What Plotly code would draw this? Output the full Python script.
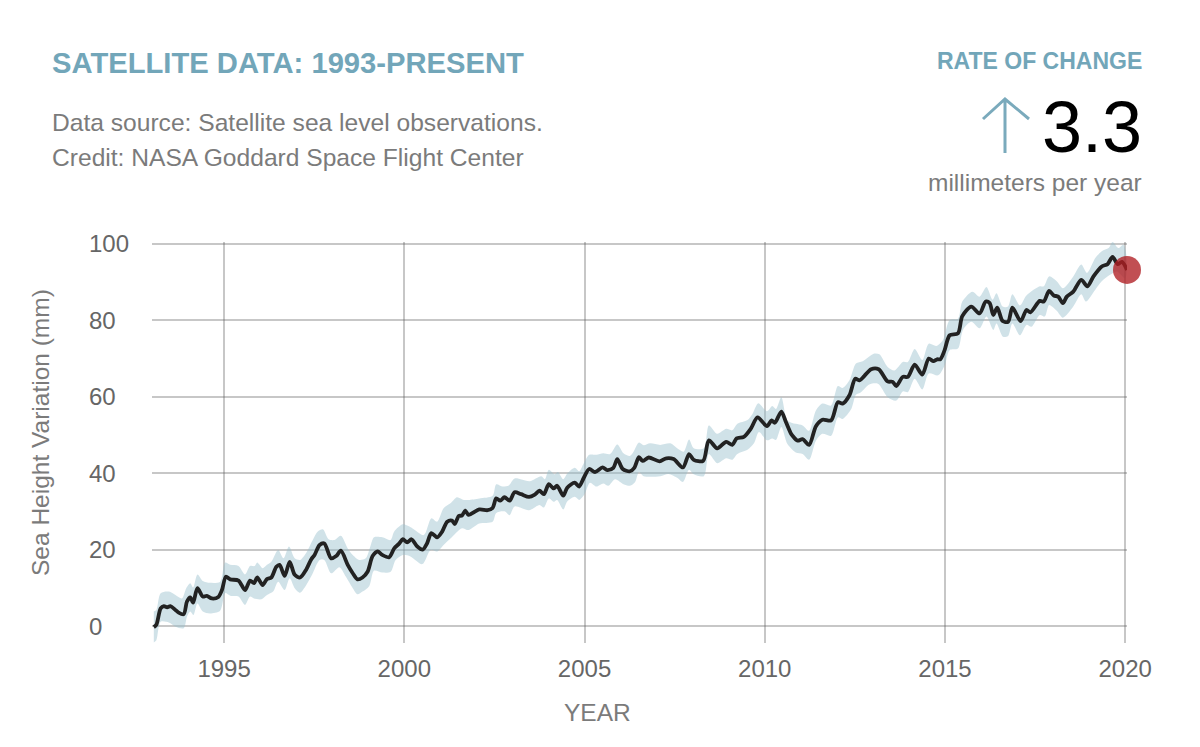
import plotly.graph_objects as go

# values
line_years = [1993.05, 1993.12, 1993.24, 1993.33, 1993.42, 1993.51, 1993.65, 1993.74, 1993.88, 1993.97, 1994.06, 1994.14, 1994.26, 1994.41, 1994.52, 1994.66, 1994.84, 1994.94,
              1995.05, 1995.17, 1995.40, 1995.58, 1995.72, 1995.83, 1995.92, 1996.07, 1996.19, 1996.31, 1996.45, 1996.54, 1996.68, 1996.82, 1996.96,
              1997.11, 1997.28, 1997.42, 1997.51, 1997.65, 1997.78, 1997.97, 1998.11, 1998.24, 1998.43, 1998.57, 1998.70, 1998.84, 1998.98,
              1999.12, 1999.26, 1999.39, 1999.58, 1999.72, 1999.85, 1999.96, 2000.08, 2000.20, 2000.36, 2000.51, 2000.63, 2000.75, 2000.91,
              2001.05, 2001.19, 2001.32, 2001.40, 2001.51, 2001.60, 2001.69, 2001.78, 2002.08, 2002.31, 2002.45, 2002.55, 2002.66, 2002.78, 2002.92,
              2003.06, 2003.24, 2003.46, 2003.62, 2003.75, 2003.87, 2004.01, 2004.14, 2004.24, 2004.41, 2004.52, 2004.73, 2004.85, 2004.98,
              2005.13, 2005.29, 2005.50, 2005.63, 2005.80, 2005.91, 2006.06, 2006.26, 2006.38, 2006.51, 2006.61, 2006.78,
              2007.08, 2007.27, 2007.47, 2007.73, 2007.90, 2008.03, 2008.29, 2008.45, 2008.68, 2008.93,
              2009.10, 2009.22, 2009.42, 2009.61, 2009.80, 2010.06, 2010.19, 2010.28, 2010.46, 2010.59, 2010.73, 2010.77, 2010.91,
              2011.05, 2011.23, 2011.42, 2011.60, 2011.84, 2012.03, 2012.16, 2012.35, 2012.51, 2012.63, 2012.76, 2012.95,
              2013.16, 2013.41, 2013.55, 2013.65, 2013.83, 2013.97, 2014.16, 2014.37, 2014.55, 2014.68, 2014.78, 2014.87, 2014.99,
              2015.13, 2015.36, 2015.48, 2015.73, 2015.96, 2016.13, 2016.24, 2016.34, 2016.45, 2016.60, 2016.75, 2016.87,
              2017.10, 2017.26, 2017.37, 2017.63, 2017.74, 2017.89, 2018.02, 2018.14, 2018.27, 2018.38, 2018.56, 2018.78, 2018.95,
              2019.12, 2019.35, 2019.51, 2019.65, 2019.79, 2019.91, 2020.05]
line_values = [-0.3, 0.3, 4.6, 5.2, 4.9, 5.2, 4.2, 3.5, 3.1, 6.4, 7.5, 6.1, 9.9, 7.7, 7.9, 7.2, 7.6, 9.4,
               12.9, 12.2, 11.9, 9.4, 11.9, 11.2, 12.7, 10.7, 12.3, 12.7, 15.5, 16.0, 13.1, 16.8, 13.4,
               12.7, 14.8, 17.5, 18.6, 21.2, 21.6, 17.7, 18.3, 19.7, 16.0, 13.8, 12.2, 12.7, 14.2,
               18.3, 19.5, 18.6, 18.0, 20.3, 21.5, 22.7, 21.9, 22.7, 20.8, 20.0, 21.6, 24.3, 23.2,
               24.7, 27.3, 27.6, 26.7, 28.8, 28.9, 30.2, 29.1, 30.5, 30.3, 30.9, 33.4, 32.8, 33.7, 32.8,
               35.0, 34.5, 33.8, 34.4, 35.4, 34.5, 37.1, 36.0, 36.7, 34.1, 36.2, 37.5, 36.5, 38.8,
               41.1, 40.3, 41.5, 40.8, 41.4, 43.7, 41.1, 40.5, 41.4, 44.2, 43.2, 44.1,
               43.1, 43.9, 43.7, 41.5, 45.0, 43.5, 43.2, 48.6, 46.5, 48.2,
               47.4, 49.1, 49.5, 51.6, 54.6, 52.3, 53.8, 53.2, 56.1, 53.3, 50.3, 49.8, 48.5,
               48.9, 47.4, 52.3, 54.0, 53.8, 58.6, 58.2, 60.4, 64.7, 64.3, 65.4, 67.2,
               67.2, 64.0, 63.9, 62.8, 65.2, 65.2, 68.4, 65.8, 70.0, 69.3, 69.8, 69.8, 72.2,
               76.1, 76.6, 81.1, 83.6, 81.8, 84.9, 84.5, 81.4, 83.3, 79.8, 79.6, 83.3,
               79.8, 82.7, 82.1, 85.1, 84.9, 87.7, 86.5, 86.2, 84.5, 86.2, 87.5, 90.6, 88.9,
               91.5, 94.1, 94.7, 96.6, 94.7, 95.3, 93.2]

upper_years = [1993.05, 1993.12, 1993.24, 1993.47, 1993.65, 1993.83, 1993.95, 1994.06, 1994.14, 1994.26, 1994.41, 1994.61, 1994.89,
               1995.03, 1995.17, 1995.40, 1995.58, 1995.72, 1995.85, 1995.92, 1996.07, 1996.19, 1996.31, 1996.50, 1996.65, 1996.80, 1996.96,
               1997.11, 1997.28, 1997.46, 1997.60, 1997.74, 1997.90, 1998.06, 1998.24, 1998.43, 1998.57, 1998.75, 1998.93,
               1999.07, 1999.16, 1999.39, 1999.62, 1999.72, 1999.96, 2000.22, 2000.54, 2000.75, 2000.91,
               2001.09, 2001.28, 2001.46, 2001.65, 2001.78, 2002.08, 2002.45, 2002.55, 2002.73, 2002.90,
               2003.06, 2003.48, 2003.80, 2003.90, 2004.01, 2004.17, 2004.26, 2004.41, 2004.52, 2004.73, 2004.85, 2004.98,
               2005.13, 2005.33, 2005.52, 2005.71, 2005.91, 2006.08, 2006.26, 2006.36, 2006.51, 2006.64, 2006.82,
               2007.10, 2007.38, 2007.57, 2007.75, 2007.90, 2008.03, 2008.31, 2008.45, 2008.68, 2008.93,
               2009.10, 2009.24, 2009.52, 2009.66, 2009.82, 2010.06, 2010.21, 2010.31, 2010.46, 2010.63, 2010.86,
               2011.05, 2011.23, 2011.42, 2011.60, 2011.84, 2012.03, 2012.16, 2012.35, 2012.53, 2012.72,
               2013.04, 2013.18, 2013.41, 2013.60, 2013.83, 2013.97, 2014.16, 2014.37, 2014.55, 2014.76, 2014.94,
               2015.13, 2015.36, 2015.48, 2015.76, 2015.96, 2016.15, 2016.32, 2016.43, 2016.60, 2016.75, 2016.87,
               2017.08, 2017.26, 2017.63, 2017.74, 2017.89, 2018.10, 2018.27, 2018.56, 2018.78, 2018.94,
               2019.17, 2019.35, 2019.54, 2019.65, 2019.81, 2019.95, 2020.03]
upper_values = [3.8, 4.2, 8.6, 9.0, 8.1, 7.2, 9.9, 11.2, 10.1, 13.5, 11.8, 11.3, 11.6,
                16.6, 16.0, 15.7, 13.5, 15.7, 15.7, 16.6, 15.1, 16.0, 16.8, 19.9, 17.7, 20.8, 17.7,
                17.3, 19.2, 22.5, 24.7, 25.3, 22.7, 22.5, 23.6, 20.3, 18.6, 17.3, 17.7,
                21.2, 23.2, 23.2, 22.5, 24.7, 26.6, 25.6, 23.8, 28.2, 27.3,
                30.8, 32.1, 33.7, 33.0, 33.0, 33.4, 34.1, 37.1, 36.5, 36.8,
                38.6, 37.9, 39.2, 38.4, 40.9, 39.7, 40.3, 38.4, 39.9, 41.4, 40.5, 42.6,
                44.8, 44.8, 45.2, 45.0, 47.5, 45.2, 44.5, 45.6, 48.0, 47.3, 47.8,
                47.4, 47.8, 46.5, 45.6, 48.8, 46.5, 46.5, 52.5, 50.3, 51.6,
                51.2, 52.9, 53.9, 55.5, 58.3, 56.2, 57.6, 56.8, 59.9, 53.8, 52.9,
                52.5, 51.1, 56.4, 58.2, 57.7, 62.8, 62.3, 64.3, 68.7, 69.3,
                71.3, 71.1, 67.8, 66.9, 69.1, 69.1, 72.5, 69.6, 73.9, 73.3, 74.8,
                80.1, 80.4, 84.9, 87.5, 86.2, 88.7, 85.4, 87.1, 83.6, 83.6, 86.8,
                83.9, 86.5, 88.9, 88.9, 91.5, 90.2, 88.4, 91.5, 94.6, 92.4,
                96.3, 98.1, 98.9, 100.5, 98.9, 99.8, 97.2]

lower_years = [1993.05, 1993.12, 1993.24, 1993.47, 1993.65, 1993.88, 1993.97, 1994.06, 1994.15, 1994.26, 1994.41, 1994.61, 1994.89,
               1995.03, 1995.17, 1995.40, 1995.58, 1995.72, 1995.83, 1996.04, 1996.19, 1996.36, 1996.50, 1996.68, 1996.82, 1996.96,
               1997.11, 1997.28, 1997.44, 1997.65, 1997.78, 1997.97, 1998.20, 1998.38, 1998.57, 1998.70, 1998.84,
               1999.03, 1999.16, 1999.39, 1999.62, 1999.76, 1999.96, 2000.17, 2000.50, 2000.73, 2000.91,
               2001.09, 2001.28, 2001.60, 2001.78, 2002.08, 2002.45, 2002.55, 2002.78, 2002.92,
               2003.06, 2003.46, 2003.75, 2003.87, 2004.01, 2004.14, 2004.24, 2004.41, 2004.52, 2004.73, 2004.85, 2005.00,
               2005.15, 2005.33, 2005.52, 2005.66, 2005.85, 2006.08, 2006.26, 2006.40, 2006.51, 2006.64,
               2007.10, 2007.33, 2007.57, 2007.73, 2007.90, 2008.03, 2008.31, 2008.45, 2008.68, 2008.93,
               2009.10, 2009.24, 2009.52, 2009.70, 2009.84, 2010.06, 2010.21, 2010.31, 2010.46, 2010.63, 2010.86,
               2011.05, 2011.23, 2011.42, 2011.60, 2011.84, 2012.03, 2012.16, 2012.40, 2012.53, 2012.67, 2012.90,
               2013.14, 2013.41, 2013.65, 2013.83, 2013.97, 2014.16, 2014.37, 2014.55, 2014.81, 2014.99,
               2015.13, 2015.36, 2015.50, 2015.73, 2015.96, 2016.15, 2016.34, 2016.43, 2016.61, 2016.75, 2016.87,
               2017.08, 2017.26, 2017.40, 2017.63, 2017.77, 2017.89, 2018.10, 2018.27, 2018.56, 2018.78, 2018.91,
               2019.17, 2019.35, 2019.58, 2019.77, 2020.00]
lower_values = [-4.3, -3.7, 1.1, 0.9, -0.2, -0.6, 2.4, 3.8, 2.9, 5.9, 3.8, 3.3, 4.0,
                8.6, 7.9, 7.7, 5.5, 7.7, 7.2, 7.0, 8.1, 9.0, 11.6, 9.4, 12.5, 9.9,
                8.7, 10.7, 13.4, 17.3, 17.3, 13.8, 15.4, 12.9, 9.9, 8.3, 9.0,
                10.5, 14.5, 14.0, 14.2, 17.3, 18.6, 18.2, 16.2, 19.9, 19.5,
                21.2, 22.9, 25.6, 25.1, 26.8, 27.3, 29.6, 30.0, 29.0,
                31.3, 30.3, 31.7, 31.0, 33.4, 32.5, 33.0, 30.5, 32.6, 33.8, 33.0, 34.5,
                37.5, 36.5, 37.3, 36.7, 38.4, 37.1, 36.7, 37.6, 40.3, 39.2,
                39.2, 39.8, 38.8, 37.7, 40.9, 39.7, 39.2, 45.0, 42.6, 43.9,
                43.5, 45.0, 46.1, 47.8, 50.8, 48.6, 49.1, 48.7, 52.1, 47.6, 45.4,
                45.0, 43.5, 48.5, 50.3, 49.8, 54.6, 54.2, 56.8, 60.5, 61.2, 63.2,
                63.4, 59.9, 59.0, 61.4, 61.2, 64.7, 61.9, 66.1, 65.6, 68.2,
                72.2, 72.6, 77.5, 79.6, 77.9, 81.0, 77.5, 79.2, 75.7, 75.9, 79.2,
                76.1, 78.8, 78.3, 81.4, 81.0, 84.0, 82.5, 80.7, 83.6, 86.8, 84.9,
                88.0, 90.2, 91.9, 92.8, 91.0]

x_ticks = [1995, 2000, 2005, 2010, 2015, 2020]
y_ticks = [0, 20, 40, 60, 80, 100]

W, H = 1200, 747
L, R, T, B = 152, 1127, 242, 643
FONT = "Liberation Sans"
TEAL = "#72a6b9"
GRAY = "#7b7b7b"
TICK = "#666666"
GRID = "rgba(90,90,90,0.34)"


def px(x):
    return (x - L) / (R - L)


def py(y):
    return (B - y) / (B - T)


def label(fig, text, x, y, size, color, anchor="left", angle=0):
    fig.add_annotation(text=text, x=px(x), y=py(y), xref="paper", yref="paper", showarrow=False,
                       xanchor=anchor, yanchor="middle", textangle=angle,
                       font=dict(family=FONT, size=size, color=color))


fig = go.Figure()

fig.add_trace(go.Scatter(x=upper_years + lower_years[::-1], y=upper_values + lower_values[::-1],
                         mode="lines", fill="toself", fillcolor="rgba(150,190,205,0.45)",
                         line=dict(width=0, shape="spline", smoothing=0.8), hoverinfo="skip"))
fig.add_trace(go.Scatter(x=line_years, y=line_values, mode="lines",
                         line=dict(color="#222222", width=3.8, shape="spline", smoothing=0.8)))
fig.add_trace(go.Scatter(x=line_years[-1:], y=line_values[-1:], mode="markers", cliponaxis=False,
                         marker=dict(color="rgba(175,30,35,0.78)", size=28, line=dict(width=0))))

label(fig, "<b>SATELLITE DATA: 1993-PRESENT</b>", 50, 63, 29.2, TEAL)
label(fig, "Data source: Satellite sea level observations.", 50, 122, 24.6, GRAY)
label(fig, "Credit: NASA Goddard Space Flight Center", 50, 157, 24.6, GRAY)
label(fig, "<b>RATE OF CHANGE</b>", 1144, 61, 23, TEAL, "right")
label(fig, "3.3", 1144, 127, 72, "#000000", "right")
label(fig, "millimeters per year", 1144, 183, 24.5, GRAY, "right")
label(fig, "YEAR", 597, 712, 24.5, GRAY, "center")
label(fig, "Sea Height Variation (mm)", 40, 433, 24.5, GRAY, "center", -90)

# y tick labels sit left aligned in the reference, plotly only right aligns them
for v in y_ticks:
    fig.add_annotation(text=str(v), x=px(87), y=v, xref="paper", yref="y", showarrow=False,
                       xanchor="left", yanchor="middle", font=dict(family=FONT, size=24, color=TICK))

# arrow next to the rate
arrow = (f"M{px(1005)},{py(153)} L{px(1005)},{py(99)} "
         f"M{px(983)},{py(119)} L{px(1005)},{py(99)} L{px(1029)},{py(119)}")
fig.add_shape(type="path", xref="paper", yref="paper", path=arrow, line=dict(color="#7aaabc", width=3))

fig.update_layout(
    width=W, height=H,
    margin=dict(l=L, r=W - R, t=T, b=H - B, pad=0),
    paper_bgcolor="white", plot_bgcolor="white",
    showlegend=False,
    font=dict(family=FONT, color=TICK, size=24),
    xaxis=dict(range=[1993, 2020.05], tickvals=x_ticks, showgrid=True, gridcolor=GRID, gridwidth=1.5,
               zeroline=False, showline=False, ticks="outside", ticklen=4, tickcolor="white",
               tickfont=dict(size=24, color=TICK)),
    yaxis=dict(range=[-4.45, 100.5], tickvals=y_ticks, showticklabels=False, showgrid=True, gridcolor=GRID,
               gridwidth=1.5, zeroline=False, showline=False),
)

fig.write_html("out.html", config={"displayModeBar": False}, post_script="document.body.style.margin='0';")
